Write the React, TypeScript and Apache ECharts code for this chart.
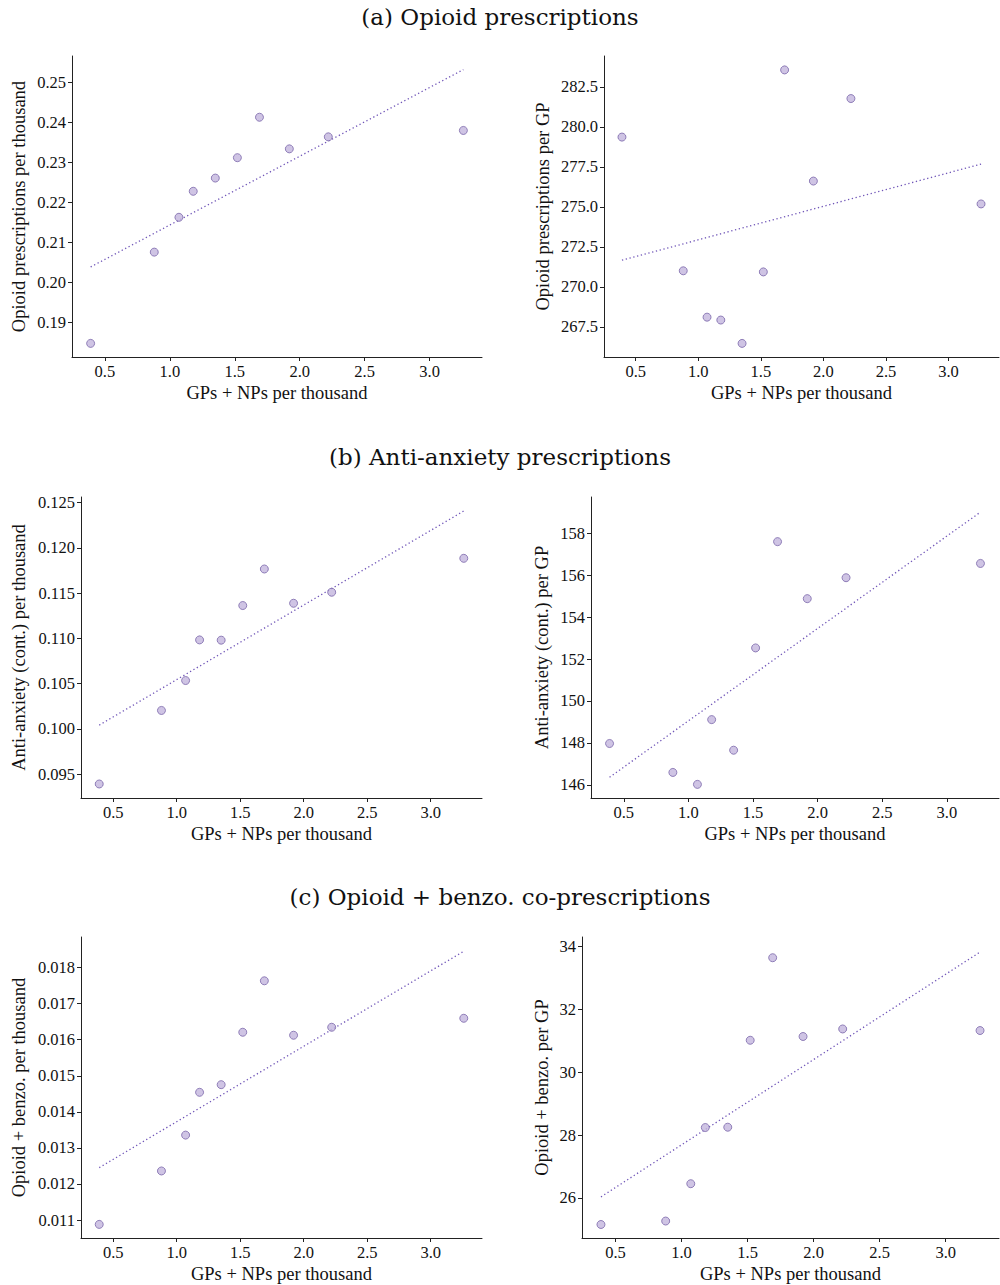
import React, { useEffect, useRef } from "react";
import * as echarts from "echarts";

const xValues = [0.39, 0.88, 1.07, 1.18, 1.35, 1.52, 1.69, 1.92, 2.22, 3.26];
const xTicks = [0.5, 1.0, 1.5, 2.0, 2.5, 3.0];

const opioidPerThousand = [0.1847, 0.2075, 0.2162, 0.2227, 0.226, 0.2311, 0.2412, 0.2333, 0.2363, 0.2379];
const opioidPerGP = [279.36, 271.0, 268.1, 267.92, 266.46, 270.93, 283.56, 276.61, 281.77, 275.18];
const anxietyPerThousand = [0.0939, 0.10203, 0.10534, 0.10983, 0.1098, 0.11363, 0.11767, 0.11388, 0.1151, 0.11885];
const anxietyPerGP = [147.97, 146.59, 146.02, 149.11, 147.65, 152.53, 157.6, 154.88, 155.88, 156.56];
const coPerThousand = [0.01088, 0.012361, 0.013355, 0.014541, 0.014753, 0.016206, 0.017632, 0.016123, 0.016344, 0.016593];
const coPerGP = [25.15, 25.26, 26.45, 28.24, 28.25, 31.02, 33.65, 31.14, 31.38, 31.33];

// trend line end values at x = 0.39 and x = 3.26
const trendX = [0.39, 3.26];
const trendOpioidPerThousand = [0.2038, 0.2531];
const trendOpioidPerGP = [271.66, 277.67];
const trendAnxietyPerThousand = [0.10041, 0.12408];
const trendAnxietyPerGP = [146.36, 159.01];
const trendCoPerThousand = [0.012453, 0.018451];
const trendCoPerGP = [26.03, 33.83];

const ticksOpioidPerThousand = [0.19, 0.2, 0.21, 0.22, 0.23, 0.24, 0.25];
const ticksOpioidPerGP = [267.5, 270.0, 272.5, 275.0, 277.5, 280.0, 282.5];
const ticksAnxietyPerThousand = [0.095, 0.1, 0.105, 0.11, 0.115, 0.12, 0.125];
const ticksAnxietyPerGP = [146, 148, 150, 152, 154, 156, 158];
const ticksCoPerThousand = [0.011, 0.012, 0.013, 0.014, 0.015, 0.016, 0.017, 0.018];
const ticksCoPerGP = [26, 28, 30, 32, 34];

const sectionTitles = [
  "(a) Opioid prescriptions",
  "(b) Anti-anxiety prescriptions",
  "(c) Opioid + benzo. co-prescriptions",
];
const xLabel = "GPs + NPs per thousand";

const panels = [
  { y: opioidPerThousand, trend: trendOpioidPerThousand, ticks: ticksOpioidPerThousand, dec: 2, name: "Opioid prescriptions per thousand", min: 0.1813, max: 0.2565, grid: { left: 72, top: 56, width: 410, height: 301 }, gap: 44 },
  { y: opioidPerGP, trend: trendOpioidPerGP, ticks: ticksOpioidPerGP, dec: 1, name: "Opioid prescriptions per GP", min: 265.61, max: 284.43, grid: { left: 604, top: 56, width: 395, height: 301 }, gap: 52 },
  { y: anxietyPerThousand, trend: trendAnxietyPerThousand, ticks: ticksAnxietyPerThousand, dec: 3, name: "Anti-anxiety (cont.) per thousand", min: 0.09235, max: 0.12563, grid: { left: 81, top: 497, width: 401, height: 301 }, gap: 53 },
  { y: anxietyPerGP, trend: trendAnxietyPerGP, ticks: ticksAnxietyPerGP, dec: 0, name: "Anti-anxiety (cont.) per GP", min: 145.37, max: 159.73, grid: { left: 591, top: 497, width: 408, height: 301 }, gap: 40 },
  { y: coPerThousand, trend: trendCoPerThousand, ticks: ticksCoPerThousand, dec: 3, name: "Opioid + benzo. per thousand", min: 0.010503, max: 0.018846, grid: { left: 81, top: 937, width: 401, height: 301 }, gap: 53 },
  { y: coPerGP, trend: trendCoPerGP, ticks: ticksCoPerGP, dec: 0, name: "Opioid + benzo. per GP", min: 24.72, max: 34.31, grid: { left: 582, top: 937, width: 417, height: 301 }, gap: 31 },
];

const FONT = "'Liberation Serif', 'Times New Roman', Times, serif";
const TITLE_FONT = "'DejaVu Serif', 'Liberation Serif', serif";

export default function App() {
  const ref = useRef<HTMLDivElement>(null);
  useEffect(() => {
    if (!ref.current) return;
    const chart = echarts.init(ref.current, undefined, { renderer: "svg" });
    const axisCommon = {
      axisLine: { lineStyle: { color: "#222", width: 1 } },
      splitLine: { show: false },
    };
    const grids = panels.map((p) => p.grid);
    const xAxes = panels.map((p, i) => ({
      type: "value",
      gridIndex: i,
      min: 0.2465,
      max: 3.4035,
      ...axisCommon,
      axisTick: { show: true, length: 4, lineStyle: { color: "#222" }, customValues: xTicks },
      axisLabel: {
        customValues: xTicks,
        formatter: (v: number) => v.toFixed(1),
        fontFamily: FONT,
        fontSize: 16.5,
        color: "#111",
        margin: 6,
      },
      name: xLabel,
      nameLocation: "middle",
      nameGap: 26,
      nameTextStyle: { fontFamily: FONT, fontSize: 18.5, color: "#111" },
    }));
    const yAxes = panels.map((p, i) => ({
      type: "value",
      gridIndex: i,
      min: p.min,
      max: p.max,
      ...axisCommon,
      axisTick: { show: true, length: 4, lineStyle: { color: "#222" }, customValues: p.ticks },
      axisLabel: {
        customValues: p.ticks,
        formatter: (v: number) => v.toFixed(p.dec),
        fontFamily: FONT,
        fontSize: 16.5,
        color: "#111",
        margin: 6,
      },
      name: p.name,
      nameLocation: "middle",
      nameRotate: 90,
      nameGap: p.gap,
      nameTextStyle: { fontFamily: FONT, fontSize: 18.5, color: "#111" },
    }));
    const series: any[] = [];
    panels.forEach((p, i) => {
      series.push({
        type: "line",
        xAxisIndex: i,
        yAxisIndex: i,
        data: trendX.map((x, k) => [x, p.trend[k]]),
        showSymbol: false,
        symbol: "none",
        lineStyle: { type: [1.3, 2.6], color: "#7056b8", width: 1.3 },
        z: 2,
      });
      series.push({
        type: "scatter",
        xAxisIndex: i,
        yAxisIndex: i,
        data: xValues.map((x, k) => [x, p.y[k]]),
        symbol: "circle",
        symbolSize: 8,
        itemStyle: { color: "#c3b5dd", borderColor: "#7b67aa", borderWidth: 1 },
        z: 3,
      });
    });
    const titleTops = [0, 440, 880];
    chart.setOption({
      animation: false,
      backgroundColor: "#ffffff",
      title: sectionTitles.map((t, i) => ({
        text: t,
        left: "center",
        top: titleTops[i],
        textStyle: { fontFamily: TITLE_FONT, fontSize: 23, fontWeight: "normal", color: "#111" },
      })),
      grid: grids,
      xAxis: xAxes,
      yAxis: yAxes,
      series,
    });
    return () => chart.dispose();
  }, []);
  return (
    <div
      ref={ref}
      style={{ position: "absolute", left: 0, top: 0, width: 1000, height: 1285 }}
    />
  );
}
